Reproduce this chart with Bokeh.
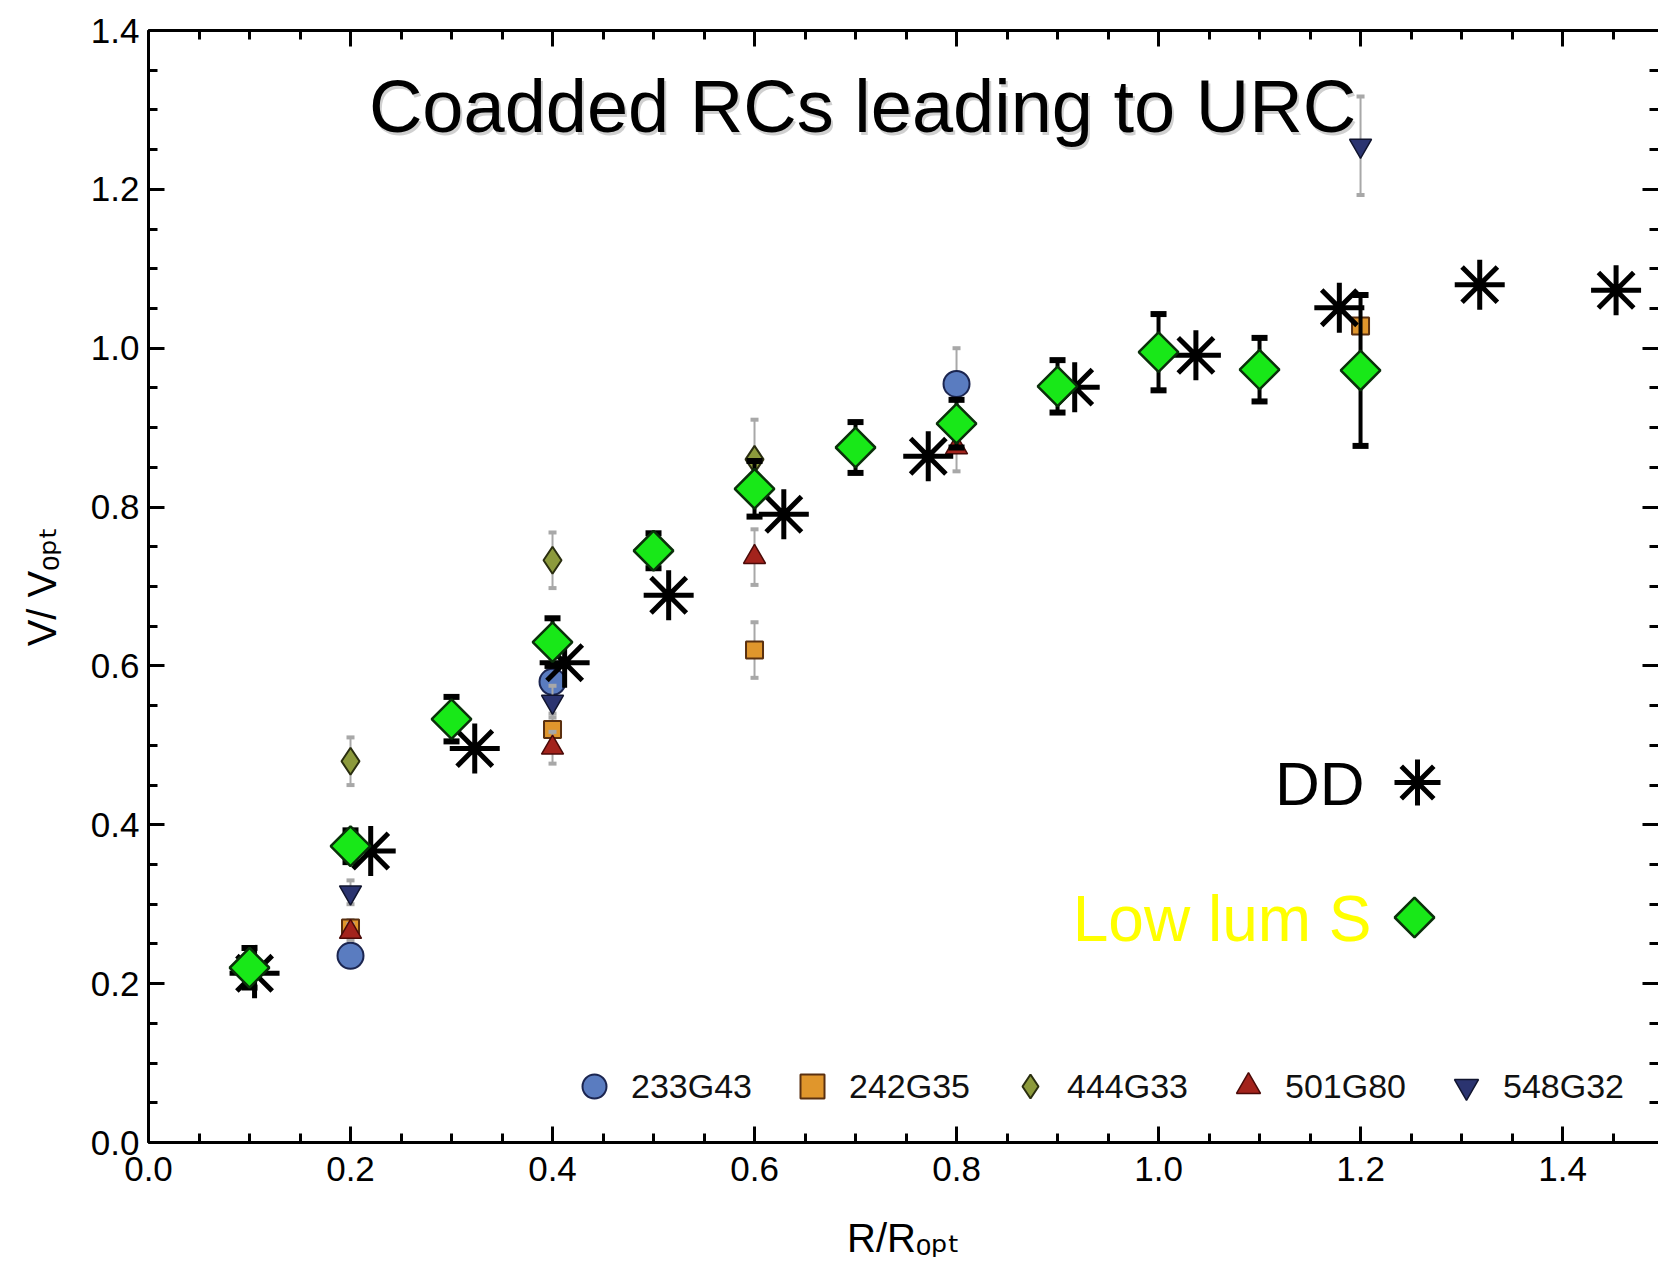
import numpy as np
from bokeh.plotting import figure
from bokeh.models import (Range1d, LinearAxis, FixedTicker, Label, Legend, LegendItem,
                          ColumnDataSource, PrintfTickFormatter, CustomJSTickFormatter)
from bokeh.embed import file_html
from bokeh.resources import INLINE

# ---------------- data ----------------
# Individual galaxies (R/Ropt, V/Vopt, error)
g233_x = [0.2, 0.4, 0.8]
g233_y = [0.235, 0.58, 0.955]
g233_e = [0.01, 0.03, 0.045]

g242_x = [0.2, 0.4, 0.6, 1.2]
g242_y = [0.27, 0.52, 0.62, 1.028]
g242_e = [0.01, 0.02, 0.035, 0.04]

g444_x = [0.2, 0.4, 0.6]
g444_y = [0.48, 0.733, 0.86]
g444_e = [0.03, 0.035, 0.05]

g501_x = [0.2, 0.4, 0.6, 0.8]
g501_y = [0.265, 0.497, 0.737, 0.875]
g501_e = [0.01, 0.02, 0.035, 0.03]

g548_x = [0.2, 0.4, 1.2]
g548_y = [0.315, 0.555, 1.255]
g548_e = [0.015, 0.02, 0.062]

# Low-luminosity spirals (coadded)
lls_x = [0.1, 0.2, 0.3, 0.4, 0.5, 0.6, 0.7, 0.8, 0.9, 1.0, 1.1, 1.2]
lls_y = [0.22, 0.373, 0.533, 0.63, 0.745, 0.823, 0.875, 0.905, 0.952, 0.995, 0.973, 0.972]
lls_e = [0.025, 0.02, 0.028, 0.03, 0.022, 0.035, 0.032, 0.03, 0.033, 0.048, 0.04, 0.095]

# Dwarf discs (coadded)
dd_x = [0.105, 0.22, 0.323, 0.412, 0.515, 0.629, 0.772, 0.917, 1.037, 1.179, 1.318, 1.453]
dd_y = [0.213, 0.367, 0.496, 0.604, 0.689, 0.791, 0.864, 0.951, 0.991, 1.051, 1.08, 1.073]

x_tick_values = [0.0, 0.2, 0.4, 0.6, 0.8, 1.0, 1.2, 1.4]
y_tick_values = [0.0, 0.2, 0.4, 0.6, 0.8, 1.0, 1.2, 1.4]
minor_step = 0.05

# ---------------- layout ----------------
W, H = 1658, 1274
LEFT, TOP, BOT = 148, 30, 132
X_MAX, Y_MAX = 1.495, 1.4
FONT = "Liberation Sans"
LABEL_FONT = "Liberation Sans, DejaVu Sans"


def dx(px):
    return (px - LEFT) / (W - LEFT) * X_MAX


def dy(py):
    return (H - BOT - py) / (H - BOT - TOP) * Y_MAX


p = figure(width=W, height=H, x_range=Range1d(0, X_MAX), y_range=Range1d(0, Y_MAX),
           output_backend="svg", toolbar_location=None,
           x_axis_location=None, y_axis_location=None,
           min_border_left=LEFT, min_border_top=TOP, min_border_bottom=BOT,
           min_border_right=0)
p.outline_line_color = None
p.xgrid.visible = False
p.ygrid.visible = False
p.background_fill_color = "white"

minor_vals = [round(i * minor_step, 3) for i in range(0, 31)]


def make_axis(ticks, labels, standoff):
    ax = LinearAxis(ticker=FixedTicker(ticks=ticks, minor_ticks=minor_vals))
    ax.axis_line_width = 3
    ax.axis_line_color = "black"
    ax.major_tick_in = 16
    ax.major_tick_out = 0
    ax.minor_tick_in = 9
    ax.minor_tick_out = 0
    ax.major_tick_line_width = 3
    ax.minor_tick_line_width = 3
    ax.major_label_text_font = FONT
    ax.major_label_text_color = "black"
    ax.major_label_text_font_size = "35px"
    if labels:
        ax.formatter = PrintfTickFormatter(format="%.1f")
        ax.major_label_standoff = standoff
    else:
        ax.formatter = CustomJSTickFormatter(code="return ''")
        ax.major_label_standoff = 0
    ax.axis_label_text_font = LABEL_FONT
    ax.axis_label_text_font_style = "normal"
    ax.axis_label_text_font_size = "40px"
    ax.axis_label_text_color = "black"
    return ax


bx = make_axis(x_tick_values, True, 14)
bx.axis_label = "R/Rₒₚₜ"
bx.axis_label_standoff = 32
p.add_layout(bx, "below")
p.add_layout(make_axis(x_tick_values, False, 0), "above")
ly = make_axis(y_tick_values, True, 9)
ly.axis_label = "V/ Vₒₚₜ"
ly.axis_label_standoff = 24
p.add_layout(ly, "left")
ry = make_axis(y_tick_values, False, 0)
ry.axis_line_color = None
p.add_layout(ry, "right")


def errbars(xs, ys, es, color, width, cap, cap_width):
    xs, ys, es = np.array(xs), np.array(ys), np.array(es)
    p.segment(x0=xs, y0=ys - es, x1=xs, y1=ys + es, line_color=color, line_width=width)
    p.scatter(xs, ys + es, marker="dash", size=cap, line_color=color, line_width=cap_width)
    p.scatter(xs, ys - es, marker="dash", size=cap, line_color=color, line_width=cap_width)


series = [
    ("233G43", g233_x, g233_y, g233_e, dict(marker="circle", size=26, fill_color="#5a7cc0", line_color="#1b2550", line_width=2)),
    ("242G35", g242_x, g242_y, g242_e, dict(marker="square", size=17, fill_color="#e0962c", line_color="#5a3010", line_width=2)),
    ("444G33", g444_x, g444_y, g444_e, dict(marker="diamond", size=27, fill_color="#8c9a3c", line_color="#2a2e10", line_width=2)),
    ("501G80", g501_x, g501_y, g501_e, dict(marker="triangle", size=22, fill_color="#a3231c", line_color="#4a0a08", line_width=1.5)),
    ("548G32", g548_x, g548_y, g548_e, dict(marker="inverted_triangle", size=22, fill_color="#2b3470", line_color="#10142e", line_width=1.5)),
]

items = []
for name, xs, ys, es, style in series:
    errbars(xs, ys, es, "#a8a8a8", 2, 8, 4)
    r = p.scatter(xs, ys, **style)
    items.append(LegendItem(label=name, renderers=[r]))

# Dwarf discs
p.scatter(dd_x, dd_y, marker="asterisk", size=50, line_color="black", line_width=5)

# Low-luminosity spirals
errbars(lls_x, lls_y, lls_e, "black", 4, 16, 6)
p.scatter(lls_x, lls_y, marker="square", angle=np.pi / 4, size=28,
          fill_color="#18e818", line_color="#0a300a", line_width=2.5)

legend = Legend(items=items, orientation="horizontal", location=(416, 26),
                glyph_width=60, glyph_height=60, label_standoff=7, spacing=30,
                padding=0, margin=0, border_line_color=None, background_fill_alpha=0,
                label_text_font=FONT, label_text_font_size="34px", label_text_color="#111111")
p.add_layout(legend, "center")

# Title (with a faint drop shadow)
title_kw = dict(x=dx(862), y=dy(106), text="Coadded RCs leading to URC",
                text_align="center", text_baseline="alphabetic", text_font=FONT,
                text_font_size="74px")
p.add_layout(Label(x_offset=2, y_offset=-3, text_color="#777777", text_alpha=0.35, **title_kw))
p.add_layout(Label(text_color="black", **title_kw))

# Sample keys for the coadded curves
p.add_layout(Label(x=dx(1364), y=dy(783), text="DD", text_align="right",
                   text_baseline="alphabetic", text_font=FONT, text_font_size="62px",
                   text_color="black"))
p.add_layout(Label(x=dx(1371), y=dy(918), text="Low lum S", text_align="right",
                   text_baseline="alphabetic", text_font=FONT, text_font_size="64px",
                   text_color="#ffff00"))
key_src = ColumnDataSource(dict(x=[dx(1417)], y=[dy(782)]))
p.scatter("x", "y", source=key_src, marker="asterisk", size=46, line_color="black", line_width=5)
key_src2 = ColumnDataSource(dict(x=[dx(1414)], y=[dy(917)]))
p.scatter("x", "y", source=key_src2, marker="square", angle=np.pi / 4, size=28,
          fill_color="#18e818", line_color="#0a300a", line_width=2.5)

open("out.html", "w").write(file_html(p, INLINE))
